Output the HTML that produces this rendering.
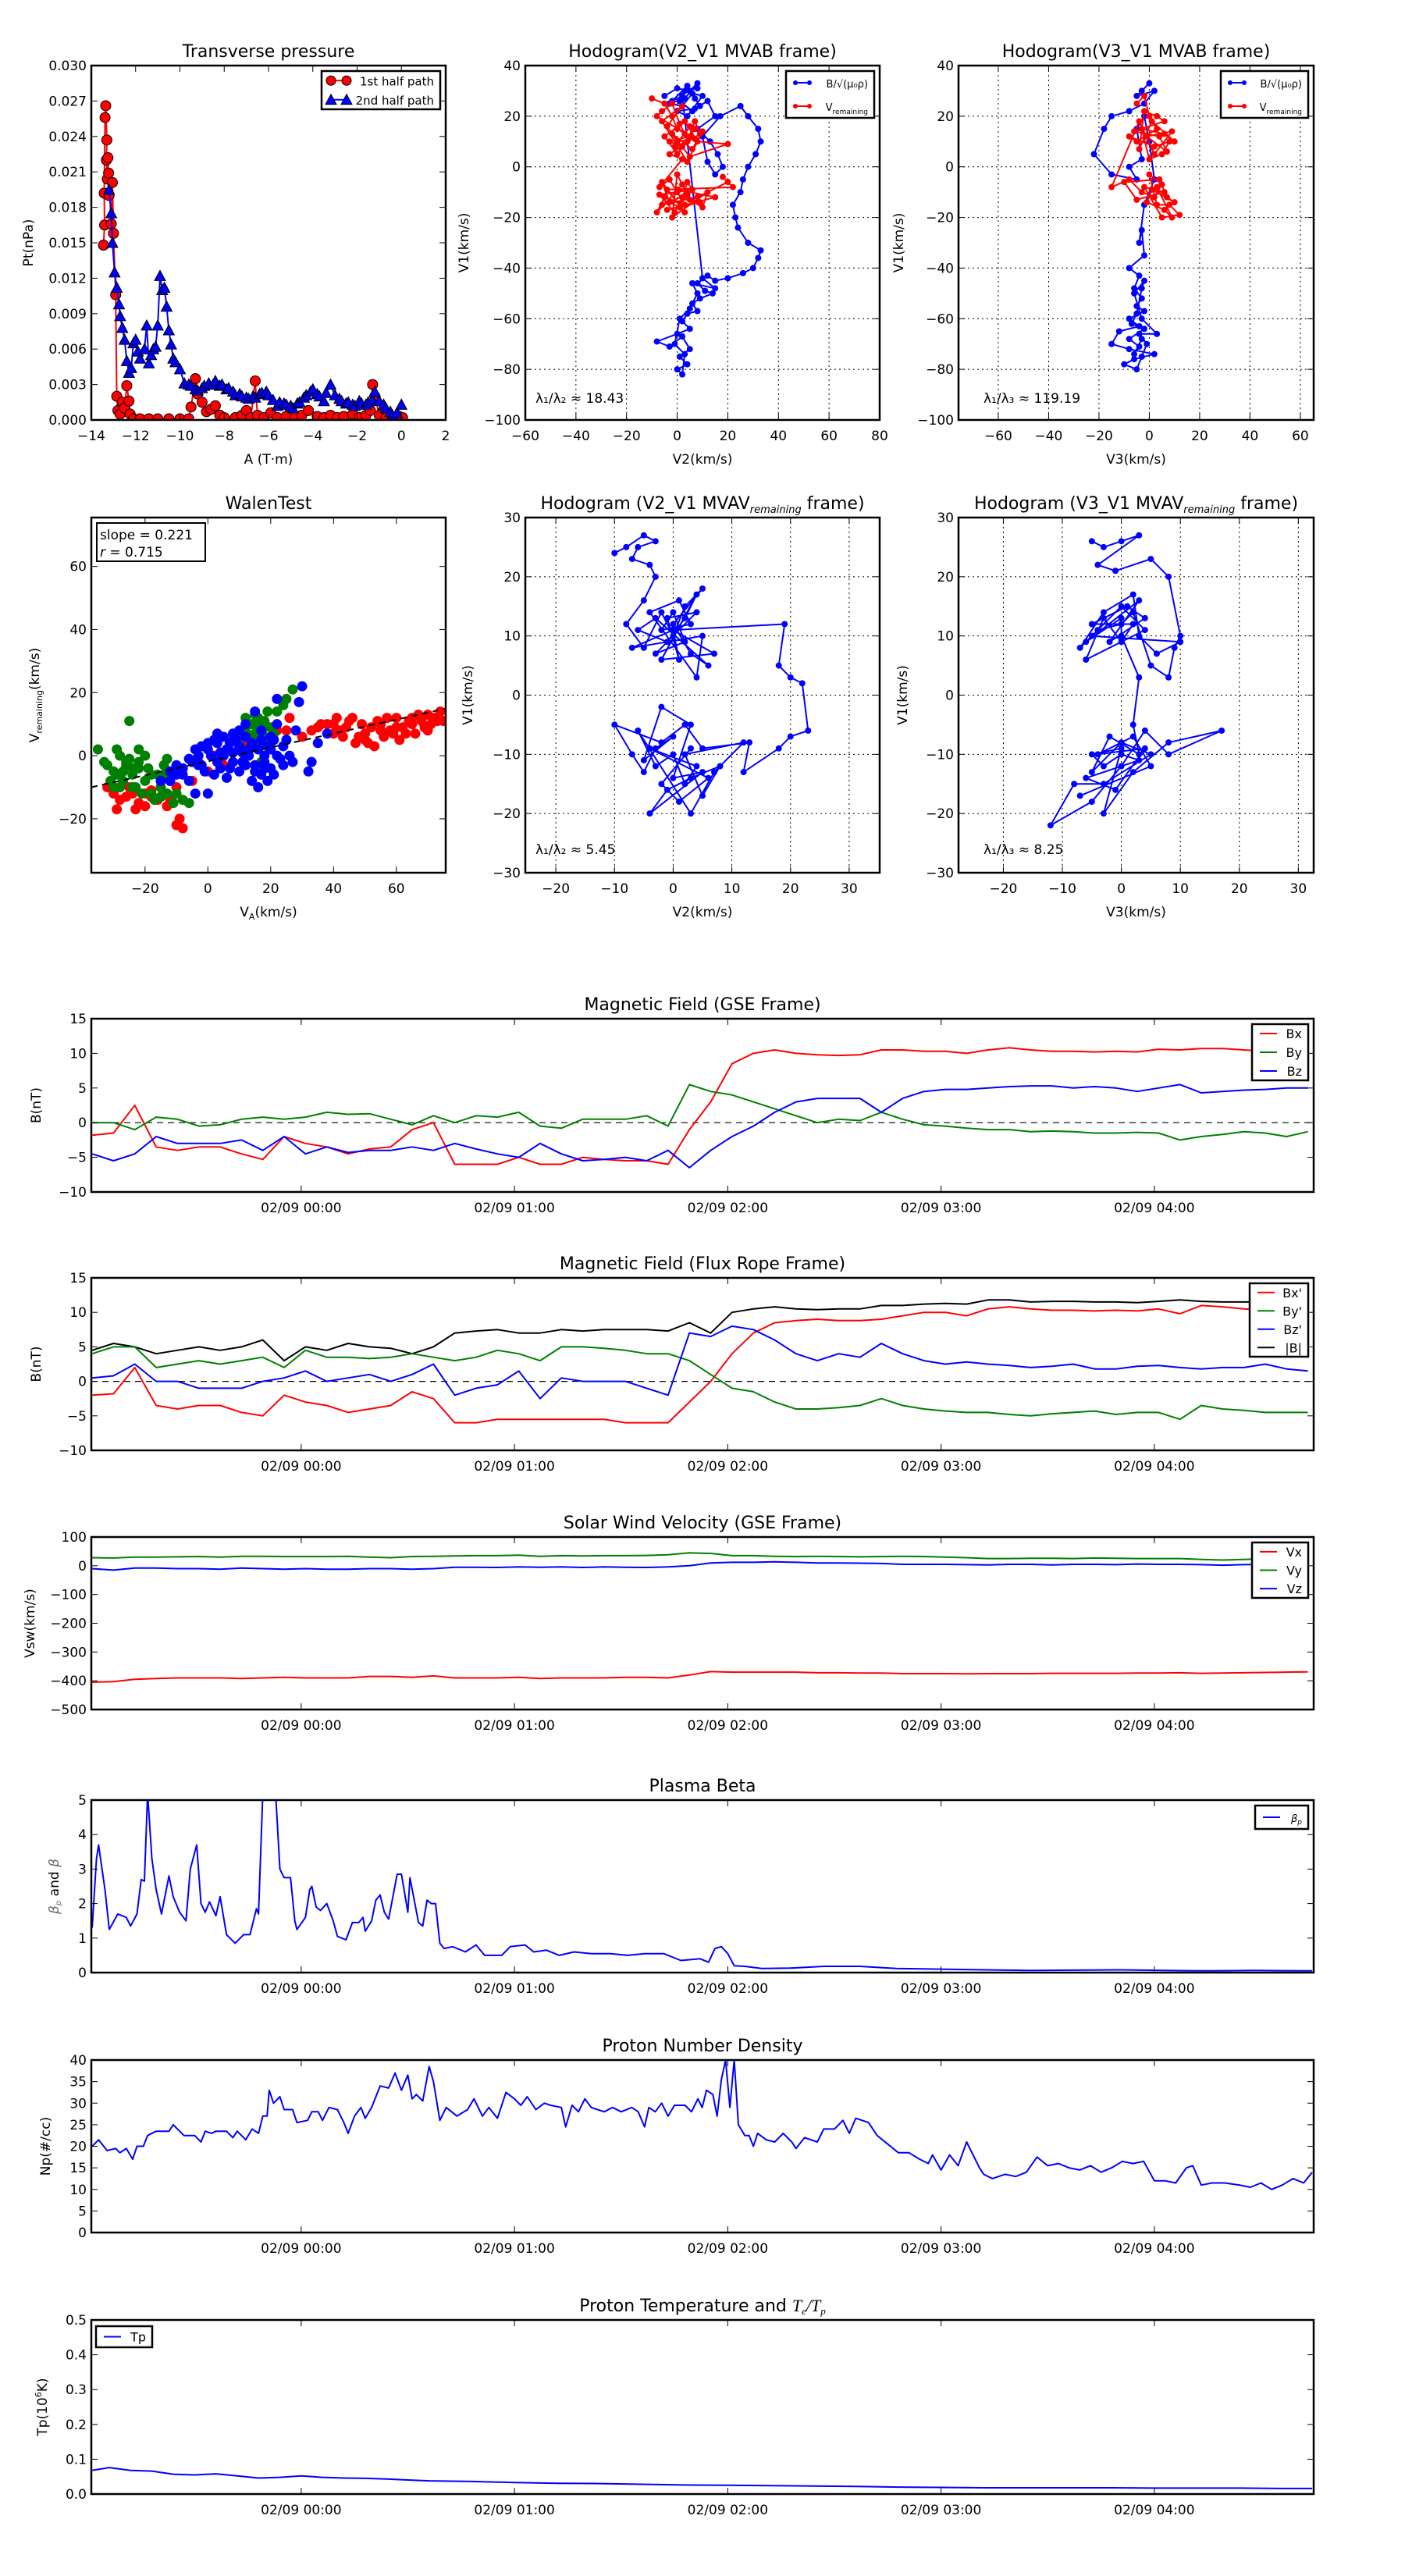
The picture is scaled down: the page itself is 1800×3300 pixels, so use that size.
<!DOCTYPE html>
<html><head><meta charset="utf-8">
<style>
html,body{margin:0;padding:0;background:#fff;}
svg{display:block;font-family:"DejaVu Sans","Liberation Sans",sans-serif;}
</style></head>
<body>
<svg id="fig" xmlns="http://www.w3.org/2000/svg" width="1800" height="3300" viewBox="0 0 1800 3300">
<rect x="0" y="0" width="1800" height="3300" fill="#fff"/>
</svg>
<script>
// ---------- DATA ----------
const ptRedA = [-13.45,-13.4,-13.42,-13.38,-13.35,-13.3,-13.32,-13.28,-13.25,-13.2,-13.22,-13.1,-13.05,-13.0,-12.9,-12.85,-12.8,-12.7,-12.6,-12.5,-12.4,-12.3,-12.25,-12.1,-11.8,-11.4,-11.0,-10.5,-10.0,-9.6,-9.5,-9.3,-9.2,-9.0,-8.8,-8.6,-8.4,-8.2,-8.0,-7.5,-7.2,-7.0,-6.8,-6.6,-6.5,-6.2,-5.9,-5.6,-5.2,-4.8,-4.5,-4.2,-3.8,-3.5,-3.2,-2.9,-2.6,-2.2,-1.9,-1.6,-1.4,-1.3,-1.2,-1.0,-0.7,-0.4,-0.1,0.05];
const ptRedP = [0.0148,0.0165,0.0192,0.0256,0.0266,0.0237,0.022,0.0204,0.0222,0.019,0.0209,0.0166,0.0201,0.0158,0.0106,0.0020,0.0008,0.0005,0.0015,0.0010,0.0029,0.0016,0.0005,0.0001,0.0001,0.0001,0.0001,0.0001,0.0001,0.0001,0.0011,0.0035,0.0022,0.0015,0.0007,0.0009,0.0012,0.0004,0.0002,0.0002,0.0004,0.0008,0.0002,0.0033,0.0004,0.0002,0.0006,0.0002,0.0003,0.0002,0.0004,0.0008,0.0003,0.0002,0.0004,0.0002,0.0003,0.0005,0.0002,0.0004,0.0008,0.0030,0.0020,0.0004,0.0002,0.0001,0.0003,0.0002];
const ptBlueA = [-13.2,-13.1,-13.05,-12.95,-12.85,-12.75,-12.7,-12.6,-12.5,-12.4,-12.3,-12.2,-12.1,-12.0,-11.9,-11.8,-11.6,-11.5,-11.4,-11.3,-11.2,-11.1,-11.0,-10.9,-10.8,-10.7,-10.6,-10.5,-10.4,-10.3,-10.2,-10.0,-9.8,-9.6,-9.5,-9.3,-9.2,-9.0,-8.9,-8.7,-8.5,-8.4,-8.2,-8.1,-7.9,-7.8,-7.6,-7.5,-7.3,-7.2,-7.0,-6.9,-6.7,-6.6,-6.4,-6.3,-6.1,-6.0,-5.8,-5.6,-5.5,-5.3,-5.2,-5.0,-4.9,-4.7,-4.6,-4.4,-4.3,-4.1,-4.0,-3.8,-3.7,-3.5,-3.4,-3.2,-3.0,-2.8,-2.7,-2.5,-2.4,-2.2,-2.1,-1.9,-1.8,-1.6,-1.5,-1.3,-1.2,-1.0,-0.8,-0.7,-0.5,-0.4,-0.2,0.0];
const ptBlueP = [0.0195,0.0175,0.0150,0.0125,0.0112,0.0098,0.0088,0.0078,0.0068,0.0050,0.0040,0.0044,0.0065,0.0068,0.0058,0.0052,0.0060,0.0080,0.0048,0.0055,0.0060,0.0062,0.0080,0.0122,0.0110,0.0112,0.0096,0.0076,0.0064,0.0052,0.0049,0.0043,0.0031,0.0030,0.0029,0.0026,0.0025,0.0027,0.0029,0.0031,0.0030,0.0033,0.0029,0.0030,0.0026,0.0027,0.0024,0.0021,0.0022,0.0020,0.0019,0.0018,0.0020,0.0019,0.0022,0.0023,0.0024,0.0021,0.0017,0.0012,0.0015,0.0014,0.0013,0.0012,0.0010,0.0014,0.0015,0.0019,0.0021,0.0024,0.0026,0.0022,0.0020,0.0016,0.0023,0.0030,0.0021,0.0018,0.0016,0.0014,0.0015,0.0013,0.0012,0.0016,0.0014,0.0013,0.0015,0.0017,0.0024,0.0016,0.0013,0.0010,0.0007,0.0004,0.0006,0.0013];

const h1BlueX = [-5,0,5,8,3,-3,2,6,10,4,0,7,12,15,8,13,16,18,15,12,10,17,25,28,32,33,31,28,26,25,22,23,24,28,33,32,30,26,20,15,12,8,11,14,9,6,8,4,2,5,0,-8,-3,2,5,1,4,0,2,3,-1,1,5,8,6,15,10,2,-2,4,7,9,6,1,3,8];
const h1BlueY = [28,31,30,33,27,25,24,29,28,20,22,23,26,20,15,10,5,0,-3,2,12,20,24,20,15,10,5,0,-5,-10,-15,-20,-24,-30,-33,-36,-40,-42,-44,-45,-43,-46,-49,-50,-52,-54,-57,-58,-61,-64,-66,-69,-71,-67,-72,-75,-78,-80,-82,-74,-70,-60,-56,-50,-46,-48,-44,28,26,32,27,24,22,26,30,31];
const h1RedX = [-10,-5,-2,0,5,-3,2,7,0,-5,3,8,20,5,-2,6,10,4,-6,2,-4,0,7,-8,-6,-2,1,3,5,-1,4,7,9,-3,2,-7,-3,0,3,-5,-8,2,5,10,12,-2,0,4,-6,8,20,18,22,-4,3,-6,-3,1,4,6,-7,-1,2,9,-4,15,0];
const h1RedY = [27,25,20,15,12,10,8,15,5,12,18,10,9,4,13,7,14,2,18,24,16,10,11,20,22,25,17,13,16,8,10,18,13,5,3,-8,-5,-10,-15,-12,-18,-7,-13,-16,-10,-20,-3,-11,-15,-12,-6,-4,-8,-9,-18,-6,-14,-16,-6,-9,-11,-18,-12,-14,-17,-12,-9];
const h3BlueX = [-3,0,-5,2,-2,-8,-15,-18,-22,-15,-5,-8,-3,-5,-2,0,2,-2,-4,-3,-2,-8,-4,-6,-3,-5,-2,-8,-4,-12,-15,-8,2,-6,-10,-5,-3,-1,-4,3,-3,-6,-2,-3,-5,-7,-2,-8,-4,-6,-3];
const h3BlueY = [30,33,28,30,25,22,20,15,5,-3,-5,0,3,15,20,10,-5,-15,-30,-25,-35,-40,-43,-48,-52,-55,-57,-60,-63,-65,-70,-72,-74,-76,-78,-80,-75,-70,-66,-66,-60,-50,-45,-48,-58,-62,-64,-68,-71,-74,-68];
const h3RedX = [-5,-2,0,3,-5,-8,2,8,5,0,-3,6,10,1,-4,-2,3,6,-6,4,7,-1,9,2,-4,-15,-8,-3,2,5,0,3,8,12,5,-2,6,-5,-10,4,7,10,1,-1,6,9,3];
const h3RedY = [25,28,20,15,10,12,8,10,5,3,15,13,10,18,7,22,20,18,14,12,6,12,14,5,18,-8,-5,-10,-12,-7,-3,-15,-15,-19,-20,-8,-10,-13,-6,-5,-12,-14,-9,-14,-17,-20,-8];

const walRedX = [-30,-28,-25,-22,-20,-18,-15,-12,-10,-9,-8,-5,0,5,10,15,20,25,30,35,38,40,42,45,48,50,52,55,58,60,62,65,68,70,72,74,53,47,63,33,-26,-24,-20,-16,-13,-10,-32,-29,-23,-18,36,40,44,46,50,54,56,57,60,64,66,67,69,71,73,43,49,59,61,38,41,51,55,65,70,75,-3,2,8,12,22,26];
const walRedY = [-12,-14,-10,-15,-12,-13,-10,-14,-22,-20,-23,-8,-5,-3,2,5,6,8,6,9,10,7,8,11,6,5,9,10,8,12,9,10,11,8,12,14,3,4,7,8,-13,-12,-16,-14,-16,-10,-10,-17,-17,-11,10,10,9,12,7,11,6,12,9,11,7,13,9,10,11,6,10,7,5,7,12,4,8,12,13,11,-2,0,5,4,8,12];
const walGreenX = [-35,-32,-30,-28,-26,-25,-24,-22,-20,-19,-18,-16,-15,-14,-12,-10,-8,-6,-27,-23,10,12,14,15,16,18,20,22,25,13,17,-13,-33,-31,-29,-27,-25,-24,-22,-21,-20,-18,-17,-15,-13,-11,-14,-28,-30,14,16,18,12,20,11,15,19,17,-26,-24,-29,-22,13,15,18,21,24,27];
const walGreenY = [2,-3,-5,0,-3,11,-6,2,-8,-4,-12,-6,-10,-3,-8,-12,-14,-15,-8,-10,5,8,10,3,12,6,9,14,18,0,-2,-1,-2,-8,2,-5,-1,-10,-4,-12,0,-6,-14,-13,-12,-15,-6,-10,-10,6,9,11,12,4,2,7,14,4,-2,-4,-6,-2,10,13,9,7,16,21];
const walBlueX = [-15,-12,-10,-8,-5,-3,-2,0,2,3,5,7,8,10,10,12,13,15,15,17,18,20,20,22,24,25,27,28,30,29,32,33,-4,0,22,-12,-8,-6,-4,-2,1,3,4,6,8,9,11,12,14,16,17,18,19,21,23,26,14,16,12,5,7,2,-6,10,24,-10,-1,6,11,13,15,17,19,21,3,8,-3,0,4,18,20,22,35,38];
const walBlueY = [-8,-5,-3,-6,-2,0,3,2,5,-2,0,4,7,3,-5,10,0,-3,14,-6,-2,2,-4,0,-3,5,-2,8,22,17,-5,-2,-12,-12,18,-8,-4,-1,2,-3,0,4,1,2,-2,5,1,-3,4,2,8,0,-8,5,-1,0,-8,-10,6,6,-4,-6,-8,8,3,-6,-5,-7,-2,2,-5,5,3,-6,7,1,-3,4,-4,-4,6,10,4,7];
const walSlope = 0.221;
const walIntercept = -1.8;

const h4X = [-10,-8,-5,-3,-6,-7,-4,-3,-5,-8,-5,-2,0,2,5,0,3,6,-3,-6,-1,2,4,-2,7,0,-7,5,4,-4,1,3,-2,0,2,-3,4,-1,1,0,19,18,20,22,23,20,18,12,13,5,2,-2,-10,-7,-5,-3,0,-5,-2,3,0,5,-4,-1,3,8,5,2,12,7,3,-6,-3,0,2,4,-4,6,1,-2,3];
const h4Y = [24,25,27,26,25,23,22,20,16,12,8,14,10,15,18,12,7,5,13,11,9,13,17,6,7,11,8,10,3,14,16,12,11,14,9,7,14,13,6,11,12,5,3,2,-6,-7,-9,-13,-8,-9,-5,-8,-5,-10,-13,-9,-7,-11,-2,-5,-14,-13,-20,-16,-14,-12,-17,-10,-8,-13,-20,-6,-12,-10,-15,-12,-9,-14,-18,-15,-9];
const h5X = [-5,-3,0,3,-4,-1,5,8,10,9,8,5,2,0,-4,-7,-3,2,3,6,10,-5,0,4,-6,-3,0,2,-5,1,4,-2,3,-6,0,0,3,2,3,-2,-5,0,5,-3,-8,-12,-5,0,4,8,17,8,2,-3,0,-5,-3,0,3,-6,-1,4,-4,2,5,-7];
const h5Y = [26,25,26,27,22,21,23,20,10,8,3,5,14,12,11,8,14,17,10,7,9,10,15,11,6,13,9,12,12,15,13,9,16,9,13,10,3,-5,-10,-7,-13,-8,-10,-15,-15,-22,-18,-12,-6,-10,-6,-8,-13,-20,-9,-10,-12,-10,-11,-14,-16,-9,-10,-7,-12,-17];

const tGrid = [-0.98,-0.88,-0.78,-0.68,-0.58,-0.48,-0.38,-0.28,-0.18,-0.08,
 0.02,0.12,0.22,0.32,0.42,0.52,0.62,0.72,0.82,0.92,
 1.02,1.12,1.22,1.32,1.42,1.52,1.62,1.72,1.82,1.92,
 2.02,2.12,2.22,2.32,2.42,2.52,2.62,2.72,2.82,2.92,
 3.02,3.12,3.22,3.32,3.42,3.52,3.62,3.72,3.82,3.92,
 4.02,4.12,4.22,4.32,4.42,4.52,4.62,4.72];
const bxVals = [-1.8,-1.5,2.5,-3.5,-4,-3.5,-3.5,-4.5,-5.3,-2,
 -3,-3.5,-4.5,-3.8,-3.5,-1,0,-6,-6,-6,
 -5,-6,-6,-5,-5.3,-5.5,-5.5,-6,-1,3,
 8.5,10,10.5,10,9.8,9.7,9.8,10.5,10.5,10.3,
 10.3,10,10.5,10.8,10.5,10.3,10.3,10.2,10.3,10.2,
 10.6,10.5,10.7,10.7,10.5,10.3,10.2,10.1];
const byVals = [0,0,-1,0.8,0.5,-0.5,-0.3,0.5,0.8,0.5,
 0.8,1.5,1.2,1.3,0.5,-0.3,1,0,1,0.8,
 1.5,-0.5,-0.8,0.5,0.5,0.5,1,-0.5,5.5,4.5,
 4,3,2,1,0,0.5,0.3,1.5,0.5,-0.3,
 -0.5,-0.8,-1,-1,-1.3,-1.2,-1.3,-1.5,-1.5,-1.4,
 -1.5,-2.5,-2,-1.7,-1.3,-1.5,-2,-1.3];
const bzVals = [-4.5,-5.5,-4.5,-2,-3,-3,-3,-2.5,-4,-2,
 -4.5,-3.5,-4.3,-4,-4,-3.5,-4,-3,-3.8,-4.5,
 -5,-3,-4.5,-5.5,-5.3,-5,-5.5,-4,-6.5,-4,
 -2,-0.5,1.5,3,3.5,3.5,3.5,1.5,3.5,4.5,
 4.8,4.8,5,5.2,5.3,5.3,5,5.2,5,4.5,
 5,5.5,4.3,4.5,4.7,4.8,5,5];
const bxpVals = [-2,-1.8,2,-3.5,-4,-3.5,-3.5,-4.5,-5,-2,
 -3,-3.5,-4.5,-4,-3.5,-1.5,-2.5,-6,-6,-5.5,
 -5.5,-5.5,-5.5,-5.5,-5.5,-6,-6,-6,-3,0,
 4,7,8.5,8.8,9,8.8,8.8,9,9.5,10,
 10,9.5,10.5,10.8,10.5,10.3,10.3,10.2,10.3,10.2,
 10.5,9.8,11,10.8,10.5,10.3,10.2,10];
const bypVals = [4,5,5,2,2.5,3,2.5,3,3.5,2,
 4.5,3.5,3.5,3.3,3.5,4,3.5,3,3.5,4.5,
 4,3,5,5,4.8,4.5,4,4,3,1,
 -1,-1.5,-3,-4,-4,-3.8,-3.5,-2.5,-3.5,-4,
 -4.3,-4.5,-4.5,-4.8,-5,-4.7,-4.5,-4.3,-4.8,-4.5,
 -4.5,-5.5,-3.5,-4,-4.2,-4.5,-4.5,-4.5];
const bzpVals = [0.5,0.8,2.5,0,0,-1,-1,-1,0,0.5,
 1.5,0,0.5,1,0,1,2.5,-2,-1,-0.5,
 1.5,-2.5,0.5,0,0,0,-1,-2,7,6.5,
 8,7.5,6,4,3,4,3.5,5.5,4,3,
 2.5,2.8,2.5,2.3,2,2.2,2.5,1.8,1.8,2.2,
 2.3,2,1.8,2,2,2.5,1.8,1.5];
const bmagVals = [4.5,5.5,5,4,4.5,5,4.5,5,6,3,
 5,4.5,5.5,5,4.8,4,5,7,7.3,7.5,
 7,7,7.5,7.3,7.5,7.5,7.5,7.3,8.5,7,
 10,10.5,10.8,10.5,10.4,10.5,10.5,11,11,11.2,
 11.3,11.2,11.8,11.8,11.5,11.6,11.6,11.5,11.5,11.4,
 11.6,11.8,11.6,11.5,11.5,11.5,11.3,11.2];
const vxVals = [-405,-403,-395,-392,-390,-390,-390,-392,-390,-388,
 -390,-390,-390,-385,-385,-388,-383,-390,-390,-390,
 -388,-392,-390,-390,-390,-388,-388,-390,-380,-368,
 -370,-370,-370,-370,-372,-372,-373,-373,-375,-375,
 -375,-376,-375,-375,-375,-374,-374,-374,-374,-373,
 -373,-372,-374,-373,-372,-371,-370,-369];
const vyVals = [28,27,30,30,31,32,30,33,33,32,
 32,32,33,30,28,32,33,34,35,35,
 37,33,35,34,35,35,36,38,45,43,
 35,35,33,32,33,32,31,32,33,32,
 30,28,25,25,26,26,25,27,26,25,
 25,25,22,20,22,25,28,30];
const vzVals = [-10,-15,-8,-8,-10,-10,-12,-8,-10,-12,
 -10,-12,-12,-10,-10,-12,-10,-5,-5,-6,
 -4,-5,-4,-6,-4,-5,-6,-4,0,10,
 12,12,14,12,10,10,9,8,5,5,
 5,4,3,5,5,3,5,5,4,6,
 5,5,4,2,4,5,6,5];

const betaT = [-0.98,-0.96,-0.95,-0.92,-0.90,-0.86,-0.82,-0.80,-0.77,-0.75,-0.735,-0.72,-0.70,-0.68,-0.655,-0.62,-0.60,-0.57,-0.54,-0.52,-0.49,-0.47,-0.45,-0.43,-0.40,-0.38,-0.35,-0.31,-0.27,-0.24,-0.21,-0.20,-0.18,-0.12,-0.10,-0.08,-0.05,-0.03,-0.02,0.02,0.04,0.05,0.07,0.09,0.12,0.15,0.17,0.21,0.24,0.27,0.29,0.30,0.33,0.35,0.37,0.39,0.41,0.45,0.47,0.50,0.51,0.55,0.57,0.59,0.61,0.63,0.65,0.67,0.71,0.77,0.82,0.86,0.94,0.98,1.05,1.09,1.15,1.21,1.28,1.36,1.45,1.53,1.61,1.70,1.78,1.87,1.91,1.94,1.97,2.00,2.03,2.08,2.16,2.29,2.45,2.62,2.79,3.00,3.21,3.42,3.63,3.84,4.05,4.26,4.47,4.74];
const betaV = [1.3,3.3,3.7,2.4,1.25,1.7,1.6,1.35,1.7,2.7,2.65,5.2,3.3,2.4,1.7,2.8,2.2,1.75,1.5,3.0,3.7,2.0,1.75,2.05,1.65,2.2,1.1,0.85,1.1,1.1,1.85,1.7,5.2,5.2,3.0,2.75,2.75,1.5,1.25,1.6,2.4,2.5,1.9,1.8,2.0,1.5,1.05,0.95,1.45,1.45,1.6,1.2,1.5,2.1,2.25,1.75,1.55,2.85,2.85,1.75,2.75,1.45,1.35,2.1,2.0,2.0,0.85,0.7,0.75,0.6,0.8,0.5,0.5,0.75,0.8,0.6,0.65,0.5,0.6,0.55,0.55,0.5,0.55,0.55,0.35,0.4,0.3,0.7,0.75,0.55,0.2,0.18,0.12,0.13,0.18,0.18,0.12,0.1,0.08,0.06,0.07,0.08,0.06,0.05,0.06,0.05];

const npT = [-0.98,-0.95,-0.91,-0.87,-0.85,-0.82,-0.79,-0.77,-0.74,-0.72,-0.68,-0.62,-0.6,-0.55,-0.5,-0.47,-0.45,-0.42,-0.4,-0.35,-0.32,-0.3,-0.26,-0.23,-0.2,-0.18,-0.16,-0.15,-0.13,-0.1,-0.08,-0.04,-0.02,0.03,0.05,0.08,0.1,0.13,0.17,0.2,0.22,0.25,0.28,0.3,0.33,0.37,0.41,0.44,0.47,0.5,0.52,0.54,0.57,0.6,0.62,0.65,0.68,0.73,0.78,0.81,0.85,0.88,0.92,0.96,1.0,1.03,1.06,1.1,1.14,1.17,1.22,1.24,1.27,1.3,1.33,1.36,1.42,1.46,1.5,1.55,1.58,1.61,1.63,1.66,1.69,1.72,1.75,1.8,1.83,1.86,1.88,1.9,1.93,1.95,1.97,1.99,2.01,2.03,2.05,2.08,2.1,2.12,2.14,2.18,2.22,2.26,2.3,2.32,2.36,2.42,2.45,2.5,2.54,2.57,2.6,2.66,2.7,2.75,2.8,2.85,2.9,2.94,2.96,3.0,3.04,3.08,3.12,3.18,3.2,3.24,3.3,3.35,3.4,3.45,3.5,3.55,3.6,3.65,3.7,3.75,3.8,3.85,3.9,3.95,4.0,4.05,4.1,4.15,4.18,4.22,4.27,4.33,4.4,4.45,4.5,4.55,4.6,4.65,4.7,4.74];
const npV = [20,21.5,19,19.5,18.5,19.5,17,20,20,22.5,23.5,23.5,25,22.5,22.5,21,23.5,23,23.5,23.5,22,23.5,21.5,24,23,27,27,33,30,31.5,28.5,28.5,25.5,26,28,28,26,29,28.5,25.5,23,27,29,26.5,29,34,33.5,37,33,36.5,31,32,30.5,38.5,35,26,29,27,28.5,31,27,29,26.5,32.5,31,29.5,31.5,28.5,30,29.5,29,24.5,29.5,28,31,29,28,29,28,29,28,24.5,29,28,30,27,29.5,29.5,28,31,29,33,32,27,35.5,40,29,40,25,22.5,22.5,20,23,21.5,21,23,21,19.5,22,21,24,24,26,23,26.5,25.5,22.5,20.5,18.5,18.5,17,16,18,14.5,18,15.5,21,15,13.5,12.5,13.5,13,14,17.5,15.5,16,15,14.5,15.5,14,15,16.5,16,16.5,12,12,11.5,15,15.5,11,11.5,11.5,11,10.5,11.5,10,11,12.5,11.5,14];

const tpT = [-0.98,-0.9,-0.8,-0.7,-0.6,-0.5,-0.4,-0.3,-0.2,-0.1,0,0.1,0.2,0.3,0.4,0.6,0.8,1.0,1.2,1.4,1.6,1.8,2.0,2.2,2.4,2.6,2.8,3.0,3.2,3.4,3.6,3.8,4.0,4.2,4.4,4.6,4.74];
const tpV = [0.068,0.076,0.068,0.066,0.057,0.055,0.058,0.052,0.046,0.048,0.052,0.048,0.046,0.045,0.043,0.038,0.036,0.033,0.031,0.030,0.028,0.026,0.025,0.024,0.023,0.022,0.020,0.019,0.018,0.018,0.018,0.018,0.017,0.017,0.017,0.016,0.016];

const hourTicks = [0,1,2,3,4];
const hourLabels = ["02/09 00:00","02/09 01:00","02/09 02:00","02/09 03:00","02/09 04:00"];

// ---------- HELPERS ----------
const NS = "http://www.w3.org/2000/svg";
const svg = document.getElementById('fig');
function mk(tag, attrs, name, parent) {
  const e = document.createElementNS(NS, tag);
  for (const k in attrs) e.setAttribute(k, attrs[k]);
  
  
  (parent || svg).appendChild(e);
  return e;
}
function txt(x, y, s, size, anchor, name, parent, extra) {
  const a = {x:x, y:y, 'font-size':size, 'text-anchor':anchor||'middle', fill:'#000'};
  if (extra) for (const k in extra) a[k] = extra[k];
  const e = mk('text', a, name, parent);
  e.innerHTML = s;
  return e;
}
let clipId = 0;
function axes(c) {
  const g = mk('g', {}, c.name, svg);
  const sx = v => c.x0 + (v - c.xmin) / (c.xmax - c.xmin) * (c.x1 - c.x0);
  const sy = v => c.y1 - (v - c.ymin) / (c.ymax - c.ymin) * (c.y1 - c.y0);
  clipId++;
  const cp = mk('clipPath', {id:'cp'+clipId}, 'clip-region', g);
  mk('rect', {x:c.x0, y:c.y0, width:c.x1-c.x0, height:c.y1-c.y0}, 'clip-rect', cp);
  if (c.grid) {
    c.xticks.forEach(v => { if (v > c.xmin && v < c.xmax) mk('line', {x1:sx(v), x2:sx(v), y1:c.y0, y2:c.y1, stroke:'#000', 'stroke-width':1, 'stroke-dasharray':'2,4'}, 'x-grid-line', g); });
    c.yticks.forEach(v => { if (v > c.ymin && v < c.ymax) mk('line', {y1:sy(v), y2:sy(v), x1:c.x0, x2:c.x1, stroke:'#000', 'stroke-width':1, 'stroke-dasharray':'2,4'}, 'y-grid-line', g); });
  }
  const plot = mk('g', {'clip-path':'url(#cp'+clipId+')'}, 'plot-area', g);
  c.xticks.forEach((v, i) => {
    const X = sx(v);
    mk('line', {x1:X, x2:X, y1:c.y1, y2:c.y1-8, stroke:'#000', 'stroke-width':1}, 'x-tick', g);
    mk('line', {x1:X, x2:X, y1:c.y0, y2:c.y0+8, stroke:'#000', 'stroke-width':1}, 'x-tick-top', g);
    txt(X, c.y1 + 26, c.xlabels[i], 17, 'middle', 'x-tick-label', g);
  });
  c.yticks.forEach((v, i) => {
    const Y = sy(v);
    mk('line', {x1:c.x0, x2:c.x0+8, y1:Y, y2:Y, stroke:'#000', 'stroke-width':1}, 'y-tick', g);
    mk('line', {x1:c.x1, x2:c.x1-8, y1:Y, y2:Y, stroke:'#000', 'stroke-width':1}, 'y-tick-right', g);
    txt(c.x0 - 6, Y + 6, c.ylabels[i], 17, 'end', 'y-tick-label', g);
  });
  mk('rect', {x:c.x0, y:c.y0, width:c.x1-c.x0, height:c.y1-c.y0, fill:'none', stroke:'#000', 'stroke-width':2.5}, 'axes-frame', g);
  if (c.title) txt((c.x0+c.x1)/2, c.y0 - 11, c.title, 22, 'middle', 'chart-title', g);
  if (c.xlabel) txt((c.x0+c.x1)/2, c.y1 + 56, c.xlabel, 17, 'middle', 'x-axis-title', g);
  if (c.ylabel) txt(c.ylx, (c.y0+c.y1)/2, c.ylabel, 17, 'middle', 'y-axis-title', g, {transform:'rotate(-90 '+c.ylx+' '+((c.y0+c.y1)/2)+')'});
  return {sx:sx, sy:sy, g:g, plot:plot};
}
function line(a, xs, ys, color, name, w) {
  const d = xs.map((x, i) => (i ? 'L' : 'M') + a.sx(x).toFixed(1) + ',' + a.sy(ys[i]).toFixed(1)).join('');
  return mk('path', {d:d, fill:'none', stroke:color, 'stroke-width':w||2, 'stroke-linejoin':'round'}, name, a.plot);
}
function dots(a, xs, ys, color, r, name) {
  xs.forEach((x, i) => {
    mk('circle', {cx:a.sx(x), cy:a.sy(ys[i]), r:r, fill:color}, name, a.plot);
  });
}
function legend(x0, y0, x1, y1, items, name, fs) {
  const g = mk('g', {}, name, svg);
  mk('rect', {x:x0, y:y0, width:x1-x0, height:y1-y0, fill:'#fff', stroke:'#000', 'stroke-width':2.5}, 'legend-box', g);
  const n = items.length, step = (y1 - y0) / n;
  items.forEach((it, i) => {
    const cy = y0 + step*(i+0.5);
    mk('line', {x1:x0+10, x2:x0+32, y1:cy, y2:cy, stroke:it.c, 'stroke-width':2}, 'legend-swatch', g);
    if (it.m === 'o') { mk('circle', {cx:x0+12, cy:cy, r:6, fill:it.c, stroke:'#000'}, 'legend-marker', g); mk('circle', {cx:x0+32, cy:cy, r:6, fill:it.c, stroke:'#000'}, 'legend-marker', g); }
    if (it.m === '^') { [x0+12, x0+32].forEach(px => mk('path', {d:'M'+px+','+(cy-7)+'L'+(px+7)+','+(cy+6)+'L'+(px-7)+','+(cy+6)+'Z', fill:it.c, stroke:'#000'}, 'legend-marker', g)); }
    if (it.m === '.') { mk('circle', {cx:x0+12, cy:cy, r:3, fill:it.c}, 'legend-marker', g); mk('circle', {cx:x0+30, cy:cy, r:3, fill:it.c}, 'legend-marker', g); }
    txt(x1 - 8, cy + 6, it.t, fs||16, 'end', 'legend-label', g);
  });
}
function rng(a, b, s) { const r = []; for (let v = a; v <= b + 1e-9; v += s) r.push(Math.round(v*1000)/1000); return r; }
const minus = v => (v < 0 ? '\u2212' + Math.abs(v) : '' + v);

// ---------- TOP ROW ----------
const pTicksY = rng(0, 0.03, 0.003);
const a1 = axes({name:'transverse-pressure-chart', x0:117, y0:84, x1:571, y1:538, xmin:-14, xmax:2, ymin:0, ymax:0.03,
  xticks:rng(-14,2,2), xlabels:rng(-14,2,2).map(minus), yticks:pTicksY, ylabels:pTicksY.map(v => v.toFixed(3)),
  title:'Transverse pressure', xlabel:'A (T\u00b7m)', ylabel:'Pt(nPa)', ylx:42});
line(a1, ptRedA, ptRedP, '#ff0000', 'first-half-path-line', 2);
ptRedA.forEach((x, i) => { mk('circle', {cx:a1.sx(x), cy:a1.sy(ptRedP[i]), r:6.5, fill:'#ff0000', stroke:'#000', 'stroke-width':1}, 'first-half-marker', a1.plot); });
line(a1, ptBlueA, ptBlueP, '#0000ff', 'second-half-path-line', 2);
ptBlueA.forEach((x, i) => { const X = a1.sx(x), Y = a1.sy(ptBlueP[i]); mk('path', {d:'M'+X+','+(Y-7)+'L'+(X+7)+','+(Y+6)+'L'+(X-7)+','+(Y+6)+'Z', fill:'#0000ff', stroke:'#000', 'stroke-width':1}, 'second-half-marker', a1.plot); });
legend(412, 91, 564, 140, [{c:'#ff0000', m:'o', t:'1st half path'}, {c:'#0000ff', m:'^', t:'2nd half path'}], 'pressure-legend', 15);

const hTicksY = rng(-100, 40, 20);
const a2 = axes({name:'hodogram-v2-v1-mvab', x0:673, y0:84, x1:1127, y1:538, xmin:-60, xmax:80, ymin:-100, ymax:40, grid:true,
  xticks:rng(-60,80,20), xlabels:rng(-60,80,20).map(minus), yticks:hTicksY, ylabels:hTicksY.map(minus),
  title:'Hodogram(V2_V1 MVAB frame)', xlabel:'V2(km/s)', ylabel:'V1(km/s)', ylx:600});
line(a2, h1BlueX, h1BlueY, '#0000ff', 'b-alfven-path', 2); dots(a2, h1BlueX, h1BlueY, '#0000ff', 4, 'b-alfven-point');
line(a2, h1RedX, h1RedY, '#ff0000', 'v-remaining-path', 2); dots(a2, h1RedX, h1RedY, '#ff0000', 4, 'v-remaining-point');
legend(1007, 91, 1120, 151, [{c:'#0000ff', m:'.', t:'B/\u221a(\u03bc\u2080\u03c1)'}, {c:'#ff0000', m:'.', t:'V<tspan font-size="9" dy="4">remaining</tspan>'}], 'hodogram1-legend', 13);
txt(686, 516, '\u03bb\u2081/\u03bb\u2082 \u2248 18.43', 17, 'start', 'eigenvalue-ratio-label', svg);

const a3 = axes({name:'hodogram-v3-v1-mvab', x0:1228, y0:84, x1:1683, y1:538, xmin:-75.8, xmax:65.3, ymin:-100, ymax:40, grid:true,
  xticks:rng(-60,60,20), xlabels:rng(-60,60,20).map(minus), yticks:hTicksY, ylabels:hTicksY.map(minus),
  title:'Hodogram(V3_V1 MVAB frame)', xlabel:'V3(km/s)', ylabel:'V1(km/s)', ylx:1157});
line(a3, h3BlueX, h3BlueY, '#0000ff', 'b-alfven-path', 2); dots(a3, h3BlueX, h3BlueY, '#0000ff', 4, 'b-alfven-point');
line(a3, h3RedX, h3RedY, '#ff0000', 'v-remaining-path', 2); dots(a3, h3RedX, h3RedY, '#ff0000', 4, 'v-remaining-point');
legend(1564, 91, 1676, 151, [{c:'#0000ff', m:'.', t:'B/\u221a(\u03bc\u2080\u03c1)'}, {c:'#ff0000', m:'.', t:'V<tspan font-size="9" dy="4">remaining</tspan>'}], 'hodogram2-legend', 13);
txt(1260, 516, '\u03bb\u2081/\u03bb\u2083 \u2248 119.19', 17, 'start', 'eigenvalue-ratio-label', svg);

// ---------- SECOND ROW ----------
const wTicks = rng(-20, 60, 20);
const a4 = axes({name:'walen-test-chart', x0:117, y0:663, x1:571, y1:1118, xmin:-37.1, xmax:75.7, ymin:-37.1, ymax:75.5,
  xticks:wTicks, xlabels:wTicks.map(minus), yticks:wTicks, ylabels:wTicks.map(minus),
  title:'WalenTest', xlabel:'V<tspan font-size="11" dy="4">A</tspan><tspan dy="-4">(km/s)</tspan>', ylabel:'V<tspan font-size="11" dy="4">remaining</tspan><tspan dy="-4">(km/s)</tspan>', ylx:50});
dots(a4, walRedX, walRedY, '#ff0000', 6.5, 'walen-red-point');
dots(a4, walGreenX, walGreenY, '#008000', 6.5, 'walen-green-point');
dots(a4, walBlueX, walBlueY, '#0000ff', 6.5, 'walen-blue-point');
const fitX = [-37.1, 75.7];
const fitY = fitX.map(x => walSlope*x + walIntercept);
mk('path', {d:'M'+a4.sx(fitX[0])+','+a4.sy(fitY[0])+'L'+a4.sx(fitX[1])+','+a4.sy(fitY[1]), stroke:'#000', 'stroke-width':2, 'stroke-dasharray':'8,6', fill:'none'}, 'walen-fit-line', a4.plot);
mk('rect', {x:124, y:670, width:139, height:49, fill:'#fff', stroke:'#000', 'stroke-width':2}, 'walen-stats-box', svg);
txt(128, 691, 'slope = 0.221', 17, 'start', 'walen-slope-label', svg);
txt(128, 713, '<tspan font-style="italic">r</tspan> = 0.715', 17, 'start', 'walen-r-label', svg);

const r2Y = rng(-30, 30, 10);
const a5 = axes({name:'hodogram-v2-v1-mvav', x0:673, y0:663, x1:1127, y1:1118, xmin:-25.2, xmax:35.2, ymin:-30, ymax:30, grid:true,
  xticks:rng(-20,30,10), xlabels:rng(-20,30,10).map(minus), yticks:r2Y, ylabels:r2Y.map(minus),
  title:'Hodogram (V2_V1 MVAV<tspan font-size="13" dy="5" font-style="italic">remaining</tspan><tspan dy="-5"> frame)</tspan>', xlabel:'V2(km/s)', ylabel:'V1(km/s)', ylx:605});
line(a5, h4X, h4Y, '#0000ff', 'hodogram-path', 2); dots(a5, h4X, h4Y, '#0000ff', 4, 'hodogram-point');
txt(686, 1094, '\u03bb\u2081/\u03bb\u2082 \u2248 5.45', 17, 'start', 'eigenvalue-ratio-label', svg);

const a6 = axes({name:'hodogram-v3-v1-mvav', x0:1228, y0:663, x1:1683, y1:1118, xmin:-27.6, xmax:32.6, ymin:-30, ymax:30, grid:true,
  xticks:rng(-20,30,10), xlabels:rng(-20,30,10).map(minus), yticks:r2Y, ylabels:r2Y.map(minus),
  title:'Hodogram (V3_V1 MVAV<tspan font-size="13" dy="5" font-style="italic">remaining</tspan><tspan dy="-5"> frame)</tspan>', xlabel:'V3(km/s)', ylabel:'V1(km/s)', ylx:1162});
line(a6, h5X, h5Y, '#0000ff', 'hodogram-path', 2); dots(a6, h5X, h5Y, '#0000ff', 4, 'hodogram-point');
txt(1260, 1094, '\u03bb\u2081/\u03bb\u2083 \u2248 8.25', 17, 'start', 'eigenvalue-ratio-label', svg);

// ---------- TIME SERIES ----------
const TX0 = 117, TX1 = 1683, TMIN = -0.984, TMAX = 4.747;
function ts(name, y0, y1, ymin, ymax, yt, yl, title, ylabel, ylx) {
  return axes({name:name, x0:TX0, y0:y0, x1:TX1, y1:y1, xmin:TMIN, xmax:TMAX, ymin:ymin, ymax:ymax,
    xticks:hourTicks, xlabels:hourLabels, yticks:yt, ylabels:yl, title:title, ylabel:ylabel, ylx:ylx});
}
const bT = rng(-10, 15, 5);
const b1 = ts('magnetic-field-gse-chart', 1305, 1527, -10, 15, bT, bT.map(minus), 'Magnetic Field (GSE Frame)', 'B(nT)', 52);
mk('line', {x1:TX0, x2:TX1, y1:b1.sy(0), y2:b1.sy(0), stroke:'#000', 'stroke-width':1.2, 'stroke-dasharray':'8,6'}, 'zero-line', b1.plot);
line(b1, tGrid, bxVals, '#ff0000', 'bx-line');
line(b1, tGrid, byVals, '#008000', 'by-line');
line(b1, tGrid, bzVals, '#0000ff', 'bz-line');
legend(1604, 1312, 1676, 1384, [{c:'#ff0000', t:'Bx'}, {c:'#008000', t:'By'}, {c:'#0000ff', t:'Bz'}], 'gse-legend', 16);

const b2 = ts('magnetic-field-flux-rope-chart', 1637, 1858, -10, 15, bT, bT.map(minus), 'Magnetic Field (Flux Rope Frame)', 'B(nT)', 52);
mk('line', {x1:TX0, x2:TX1, y1:b2.sy(0), y2:b2.sy(0), stroke:'#000', 'stroke-width':1.2, 'stroke-dasharray':'8,6'}, 'zero-line', b2.plot);
line(b2, tGrid, bmagVals, '#000000', 'bmag-line');
line(b2, tGrid, bxpVals, '#ff0000', 'bx-prime-line');
line(b2, tGrid, bypVals, '#008000', 'by-prime-line');
line(b2, tGrid, bzpVals, '#0000ff', 'bz-prime-line');
legend(1601, 1644, 1676, 1738, [{c:'#ff0000', t:"Bx'"}, {c:'#008000', t:"By'"}, {c:'#0000ff', t:"Bz'"}, {c:'#000000', t:'|B|'}], 'flux-rope-legend', 16);

const vT = rng(-500, 100, 100);
const v1 = ts('solar-wind-velocity-chart', 1969, 2190, -500, 100, vT, vT.map(minus), 'Solar Wind Velocity (GSE Frame)', 'Vsw(km/s)', 44);
line(v1, tGrid, vxVals, '#ff0000', 'vx-line');
line(v1, tGrid, vyVals, '#008000', 'vy-line');
line(v1, tGrid, vzVals, '#0000ff', 'vz-line');
legend(1604, 1976, 1676, 2047, [{c:'#ff0000', t:'Vx'}, {c:'#008000', t:'Vy'}, {c:'#0000ff', t:'Vz'}], 'velocity-legend', 16);

const betaTk = rng(0, 5, 1);
const p1 = ts('plasma-beta-chart', 2306, 2527, 0, 5, betaTk, betaTk.map(String), 'Plasma Beta', '<tspan font-style="italic" fill="#666">\u03b2<tspan font-size="10" dy="3">p</tspan></tspan><tspan dy="-3"> and </tspan><tspan font-style="italic" fill="#666">\u03b2</tspan>', 75);
line(p1, betaT, betaV, '#0000ff', 'beta-line');
legend(1608, 2313, 1676, 2343, [{c:'#0000ff', t:'<tspan font-style="italic">\u03b2<tspan font-size="9" dy="3">p</tspan></tspan>'}], 'beta-legend', 13);

const npTk = rng(0, 40, 5);
const p2 = ts('proton-density-chart', 2639, 2860, 0, 40, npTk, npTk.map(String), 'Proton Number Density', 'Np(#/cc)', 64);
line(p2, npT, npV, '#0000ff', 'density-line');

const tpTk = rng(0, 0.5, 0.1);
const p3 = ts('proton-temperature-chart', 2972, 3195, 0, 0.5, tpTk, tpTk.map(v => v.toFixed(1)), 'Proton Temperature and <tspan font-style="italic" font-family="Liberation Serif">T<tspan font-size="13" dy="4">e</tspan><tspan dy="-4">/T</tspan><tspan font-size="13" dy="4">p</tspan></tspan>', 'Tp(10<tspan font-size="11" dy="-7">6</tspan><tspan dy="7">K)</tspan>', 60);
line(p3, tpT, tpV, '#0000ff', 'tp-line');
legend(123, 2980, 195, 3007, [{c:'#0000ff', t:'Tp'}], 'tp-legend', 16);
</script>
</body></html>
